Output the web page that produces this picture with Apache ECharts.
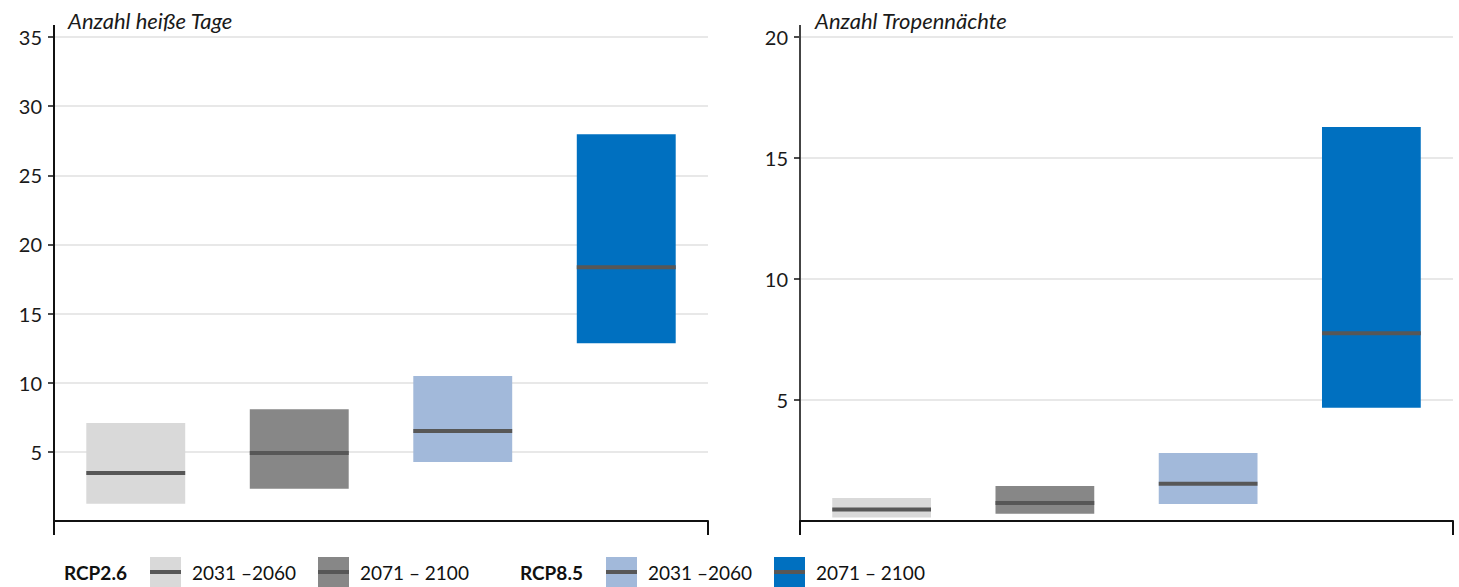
<!DOCTYPE html>
<html>
<head>
<meta charset="utf-8">
<script src="https://cdn.jsdelivr.net/npm/echarts@6/dist/echarts.min.js"></script>
<style>
html,body{margin:0;padding:0;background:#fff;}
#chart{width:1459px;height:587px;}
</style>
</head>
<body>
<div id="chart"></div>
<script>
// ---- Data ----
const categories = ['RCP2.6 2031–2060', 'RCP2.6 2071–2100', 'RCP8.5 2031–2060', 'RCP8.5 2071–2100'];
const hotLow    = [1.25, 2.34, 4.26, 12.86];
const hotHigh   = [7.08, 8.09, 10.48, 27.96];
const hotMedian = [3.47, 4.91, 6.50, 18.35];
const tropLow    = [0.14, 0.30, 0.70, 4.68];
const tropHigh   = [0.95, 1.45, 2.81, 16.28];
const tropMedian = [0.48, 0.74, 1.54, 7.76];
const hotTickValues  = [5, 10, 15, 20, 25, 30, 35];
const tropTickValues = [5, 10, 15, 20];
const hotTicks  = {min: 0, max: 35, interval: 5};
const tropTicks = {min: 0, max: 20, interval: 5};
const titles = ['Anzahl heiße Tage', 'Anzahl Tropennächte'];
const legendGroups = ['RCP2.6', 'RCP8.5'];
const legendPeriods = ['2031 –2060', '2071 – 2100', '2031 –2060', '2071 – 2100'];

// ---- Styles ----
const colors = ['#d9d9d9', '#878787', '#a2b9da', '#0070c0'];
const medianColor = '#575757';
const FONT = 'Lato, "Open Sans", sans-serif';

function buildData(low, high, med) {
  return categories.map((c, i) => [i, low[i], high[i], med[i]]);
}

function renderItem(params, api) {
  const idx = api.value(0);
  const lo = api.coord([idx, api.value(1)]);
  const hi = api.coord([idx, api.value(2)]);
  const md = api.coord([idx, api.value(3)]);
  const w = api.size([1, 0])[0] * 0.605;
  return {
    type: 'group',
    children: [
      {type: 'rect', shape: {x: lo[0] - w / 2, y: hi[1], width: w, height: lo[1] - hi[1]},
       style: {fill: colors[idx]}},
      {type: 'rect', shape: {x: md[0] - w / 2, y: md[1] - 2, width: w, height: 4},
       style: {fill: medianColor}}
    ]
  };
}

function xAxisOf(gridIndex) {
  return {
    type: 'category', gridIndex: gridIndex, data: categories, boundaryGap: true,
    axisLine: {show: true, lineStyle: {color: '#111', width: 2}},
    axisTick: {show: true, length: 14, interval: (i) => i === 0, lineStyle: {color: '#111', width: 2}},
    axisLabel: {show: false}, splitLine: {show: false}
  };
}
function yAxisOf(gridIndex, t, tickValues, lineColor) {
  return {
    type: 'value', gridIndex: gridIndex, min: t.min, max: t.max, interval: t.interval,
    axisLine: {show: true, lineStyle: {color: lineColor, width: 2},
               symbol: ['none', 'rect'], symbolSize: [2, 24]},
    axisTick: {show: true, length: 6, customValues: tickValues, lineStyle: {color: '#111', width: 1.5}},
    axisLabel: {fontSize: 20, color: '#1a1a1a', fontFamily: FONT, margin: 12,
                customValues: tickValues},
    splitLine: {show: true, lineStyle: {color: '#e0e0e0', width: 1.5}}
  };
}

// legend built as graphic
const legendX = {groups: [64, 520], swatches: [150, 318, 606, 774], texts: [192, 360, 648, 816]};
const legendGraphics = [];
legendGroups.forEach((g, i) => {
  legendGraphics.push({type: 'text', left: legendX.groups[i], top: 563,
    style: {text: g, font: 'bold 19px ' + FONT, fill: '#111'}});
});
legendPeriods.forEach((p, i) => {
  legendGraphics.push({type: 'rect', left: legendX.swatches[i], top: 557,
    shape: {width: 31, height: 30}, style: {fill: colors[i]}});
  legendGraphics.push({type: 'rect', left: legendX.swatches[i], top: 570,
    shape: {width: 31, height: 4}, style: {fill: medianColor}});
  legendGraphics.push({type: 'text', left: legendX.texts[i], top: 563,
    style: {text: p, font: '19px ' + FONT, fill: '#111'}});
});

const chart = echarts.init(document.getElementById('chart'), null, {renderer: 'svg'});
chart.setOption({
  animation: false,
  backgroundColor: '#fff',
  title: [
    {text: titles[0], left: 63, top: 4, textStyle: {fontSize: 22, fontStyle: 'italic', fontWeight: 'normal', color: '#1a1a1a', fontFamily: FONT}},
    {text: titles[1], left: 810, top: 4, textStyle: {fontSize: 22, fontStyle: 'italic', fontWeight: 'normal', color: '#1a1a1a', fontFamily: FONT}}
  ],
  grid: [
    {left: 54, right: 751, top: 37, bottom: 66},
    {left: 800, right: 6, top: 37, bottom: 66}
  ],
  xAxis: [xAxisOf(0), xAxisOf(1)],
  yAxis: [yAxisOf(0, hotTicks, hotTickValues, '#111'), yAxisOf(1, tropTicks, tropTickValues, '#444')],
  series: [
    {type: 'custom', xAxisIndex: 0, yAxisIndex: 0, renderItem: renderItem,
     encode: {x: 0, y: [1, 2, 3]}, data: buildData(hotLow, hotHigh, hotMedian)},
    {type: 'custom', xAxisIndex: 1, yAxisIndex: 1, renderItem: renderItem,
     encode: {x: 0, y: [1, 2, 3]}, data: buildData(tropLow, tropHigh, tropMedian)}
  ],
  graphic: legendGraphics
});
</script>
</body>
</html>
